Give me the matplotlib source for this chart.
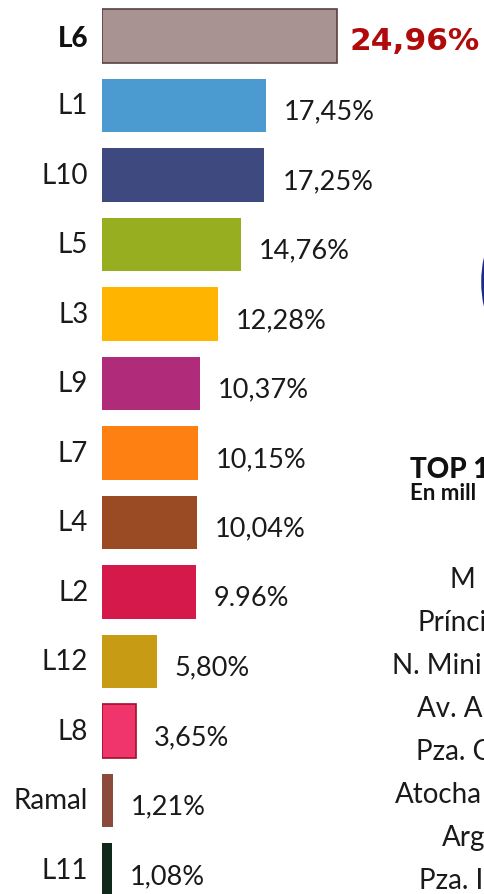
import matplotlib.pyplot as plt
from matplotlib.patches import Circle

plt.rcParams['font.family'] = ['Lato', 'DejaVu Sans']

lines = ['L6', 'L1', 'L10', 'L5', 'L3', 'L9', 'L7', 'L4', 'L2', 'L12', 'L8', 'Ramal', 'L11']
shares = [24.96, 17.45, 17.25, 14.76, 12.28, 10.37, 10.15, 10.04, 9.96, 5.80, 3.65, 1.21, 1.08]
share_labels = ['24,96%', '17,45%', '17,25%', '14,76%', '12,28%', '10,37%', '10,15%',
                '10,04%', '9.96%', '5,80%', '3,65%', '1,21%', '1,08%']
colors = ['#a89292', '#4b9bd1', '#3e4a7f', '#97ae20', '#ffb400', '#b12b7b', '#ff8012',
          '#9b4b23', '#d5194a', '#c89b14', '#f0346c', '#8a4b3b', '#10291a']

# stations of the neighbouring table, cut by the page edge
stations = ['M', 'Prínci', 'N. Mini', 'Av. A', 'Pza. C', 'Atocha', 'Arg', 'Pza. I']

W, H = 485, 895
fig = plt.figure(figsize=(W / 100, H / 100), dpi=100)
fig.patch.set_facecolor('white')

x0 = 102          # left edge of bars in px
ppu = 235 / 24.96  # px per percent point
row0, step = 37, 69.5

ax = fig.add_axes([x0 / W, 0, 1 - x0 / W, 1])
ax.set_xlim(0, (W - x0) / ppu)
ax.set_ylim((H - row0) / step, -row0 / step)
ax.axis('off')

ypos = list(range(len(lines)))
edges = ['#5a4040'] + ['none'] * 9 + ['#a0102a', 'none', 'none']
ax.barh(ypos, shares, height=0.77, color=colors, edgecolor=edges, linewidth=1.2)

for i, (name, v, lab) in enumerate(zip(lines, shares, share_labels)):
    if i == 0:
        ax.text(-1.45, i + 0.03, name, ha='right', va='center', fontsize=20,
                fontweight='black', color='#111111')
        ax.text(v + 1.35, i + 0.06, lab, ha='left', va='center', fontsize=22.5,
                fontweight='bold', color='#b00a0a', family='DejaVu Sans')
    else:
        ax.text(-1.45, i, name, ha='right', va='center', fontsize=20, color='#1a1a1a')
        ax.text(v + 1.9, i + 0.08, lab, ha='left', va='center', fontsize=19.5, color='#1a1a1a')

# right-hand table fragment
fig.text(410 / W, 1 - 470 / H, 'TOP 1', ha='left', va='center', fontsize=20,
         fontweight='black', color='#111111')
fig.text(410 / W, 1 - 494 / H, 'En mill', ha='left', va='center', fontsize=16,
         fontweight='bold', color='#111111')
sx = [450, 418, 392, 417, 416, 395, 442, 419]
sy = [580, 623, 666, 709, 752, 795, 838, 881]
for s, x, y in zip(stations, sx, sy):
    fig.text(x / W, 1 - y / H, s, ha='left', va='center', fontsize=20, color='#1a1a1a')

fig.add_artist(Circle((518 / W, 1 - 283 / H), 34 / W, transform=fig.transFigure,
                      fill=False, edgecolor='#1c2b86', linewidth=4))

fig.savefig('out.png', dpi=100)
